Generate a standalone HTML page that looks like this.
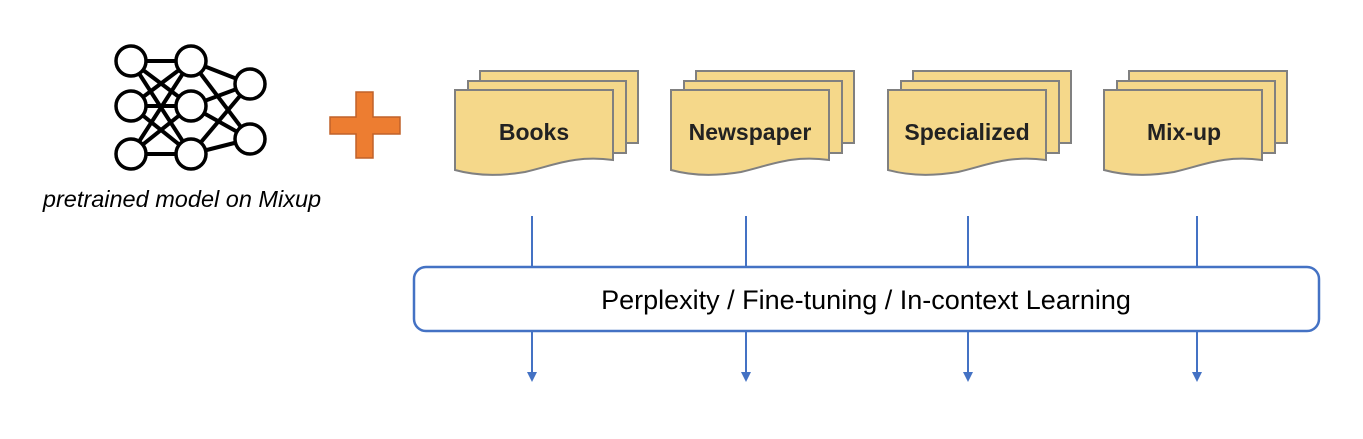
<!DOCTYPE html>
<html><head><style>body{margin:0;background:#fff}</style></head><body>
<svg width="1363" height="434" xmlns="http://www.w3.org/2000/svg" font-family="Liberation Sans, sans-serif">
<defs>
<g id="doc">
<rect x="25" y="0" width="158" height="72" fill="#F5D88A" stroke="#808080" stroke-width="2"/>
<rect x="13" y="10" width="158" height="72" fill="#F5D88A" stroke="#808080" stroke-width="2"/>
<path d="M0 19 H158 V89 C120 84 100 94 70 101 C40 106 18 104 0 99 Z" fill="#F5D88A" stroke="#808080" stroke-width="2"/>
</g>
</defs>
<g stroke="#000" stroke-width="4">
<line x1="131" y1="61" x2="191" y2="61"/><line x1="131" y1="61" x2="191" y2="106"/><line x1="131" y1="61" x2="191" y2="154"/>
<line x1="131" y1="106" x2="191" y2="61"/><line x1="131" y1="106" x2="191" y2="106"/><line x1="131" y1="106" x2="191" y2="154"/>
<line x1="131" y1="154" x2="191" y2="61"/><line x1="131" y1="154" x2="191" y2="106"/><line x1="131" y1="154" x2="191" y2="154"/>
<line x1="191" y1="61" x2="250" y2="84"/><line x1="191" y1="61" x2="250" y2="139"/>
<line x1="191" y1="106" x2="250" y2="84"/><line x1="191" y1="106" x2="250" y2="139"/>
<line x1="191" y1="154" x2="250" y2="84"/><line x1="191" y1="154" x2="250" y2="139"/>
</g>
<g fill="#fff" stroke="#000" stroke-width="3.5">
<circle cx="131" cy="61" r="15"/><circle cx="131" cy="106" r="15"/><circle cx="131" cy="154" r="15"/>
<circle cx="191" cy="61" r="15"/><circle cx="191" cy="106" r="15"/><circle cx="191" cy="154" r="15"/>
<circle cx="250" cy="84" r="15"/><circle cx="250" cy="139" r="15"/>
</g>
<text x="182" y="207" font-size="23.5" font-style="italic" text-anchor="middle">pretrained model on Mixup</text>
<path d="M356 92 H373 V117 H400 V134 H373 V158 H356 V134 H330 V117 H356 Z" fill="#ED7D31" stroke="#C0622A" stroke-width="1.5"/>
<use href="#doc" x="455" y="71"/><use href="#doc" x="671" y="71"/><use href="#doc" x="888" y="71"/><use href="#doc" x="1104" y="71"/>
<g font-size="23" font-weight="bold" fill="#222" text-anchor="middle">
<text x="534" y="140">Books</text><text x="750" y="140">Newspaper</text><text x="967" y="140">Specialized</text><text x="1184" y="140">Mix-up</text>
</g>
<g stroke="#4472C4" stroke-width="2">
<line x1="532" y1="216" x2="532" y2="267"/><line x1="746" y1="216" x2="746" y2="267"/><line x1="968" y1="216" x2="968" y2="267"/><line x1="1197" y1="216" x2="1197" y2="267"/>
<line x1="532" y1="331" x2="532" y2="374"/><line x1="746" y1="331" x2="746" y2="374"/><line x1="968" y1="331" x2="968" y2="374"/><line x1="1197" y1="331" x2="1197" y2="374"/>
</g>
<g fill="#4472C4">
<path d="M527 372 H537 L532 382Z"/><path d="M741 372 H751 L746 382Z"/><path d="M963 372 H973 L968 382Z"/><path d="M1192 372 H1202 L1197 382Z"/>
</g>
<rect x="414" y="267" width="905" height="64" rx="12" fill="#fff" stroke="#4472C4" stroke-width="2.5"/>
<text x="866" y="309" font-size="27" text-anchor="middle">Perplexity / Fine-tuning / In-context Learning</text>
</svg>
</body></html>
